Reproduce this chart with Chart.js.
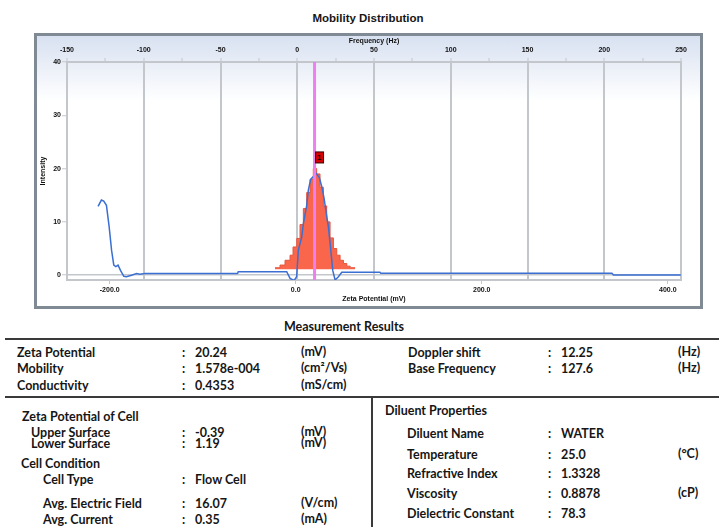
<!DOCTYPE html>
<html>
<head>
<meta charset="utf-8">
<script src="https://cdn.jsdelivr.net/npm/chart.js@4.4.1/dist/chart.umd.min.js"></script>
<style>
  body { margin: 0; background: #fff; }
  #page { position: relative; width: 719px; height: 527px; overflow: hidden; font-family: Lato, sans-serif; color: #161616; }
  #chart-title { position: absolute; left: 0; width: 736px; top: 12px; text-align: center; font: bold 11.5px "Liberation Sans", sans-serif; }
  #frame { position: absolute; left: 34px; top: 33px; width: 669px; height: 276px; box-sizing: border-box;
           border: 3px solid #7f8a95; background: linear-gradient(#d8e1f1 0%, #ffffff 24%, #ffffff 100%); }
  #mobility-chart { position: absolute; left: 0; top: 0; }
  .t { position: absolute; font-weight: bold; font-size: 12.5px; line-height: 14px; white-space: nowrap; }
  .rule { position: absolute; background: #3a3a3a; }
</style>
</head>
<body>
<div id="page">
  <div id="chart-title">Mobility Distribution</div>
  <div id="frame"></div>
  <canvas id="mobility-chart" width="719" height="310"></canvas>
  <div id="results"></div>
</div>
<script>
// Frequency (Hz) top axis and zeta potential (mV) bottom axis
const freqTicks = [-150, -125, -100, -75, -50, -25, 0, 25, 50, 75, 100, 125, 150, 175, 200, 225, 250];
const zetaTicks = [-200, 0, 200, 400];
const intensityTicks = [0, 10, 20, 30, 40];

// blue distribution curve
const curveZeta = [-212.5, -208.9, -206.4, -203.5, -200.6, -198, -195.6, -193.4, -191, -188.4, -184.8, -182, -176.5, -171.1, -167.6, -162.2,
  -62.5, -61.8, -9.7, -6.1, -1.8, 1, 2.8, 6.5, 8.2, 11.8, 13.6, 16.1, 18.3, 21.9, 25.4, 28, 30.5, 32.6, 35.1, 37.7, 39.8, 42.3, 45.9, 49.5,
  90.5, 91.5, 340, 341.5, 414];
const curveIntensity = [12.9, 14.1, 13.9, 13.1, 9.1, 4.7, 1.9, 1.6, 1.9, 0.9, -0.2, -0.3, 0, 0.3, 0.2, 0.3,
  0.3, 0.65, 0.65, -0.6, -1.0, -0.3, 4.7, 7.2, 9.7, 13.1, 16, 18, 18.4, 19.1, 18.3, 16.6, 14.4, 11.9, 9.1, 4.7, 0.9, -0.9, -0.3, 0.55,
  0.55, 0.35, 0.35, 0.05, 0.05];

// red peak histogram (bin left edges)
const peakZeta = [-22.3, -16.9, -11.5, -6.1, -2.9, 1.1, 4.6, 8.2, 11.8, 15.4, 18.9, 22.5, 26.1, 29.7, 33.3, 36.9, 40.5, 44.1, 47.7, 51.3, 54.9, 58.5, 63.8];
const peakIntensity = [1.4, 1.9, 2.8, 3.75, 5.3, 6.9, 9.5, 12.5, 15.5, 18, 20, 19, 16.5, 13, 10, 7, 5, 3.75, 2.8, 2.2, 1.7, 1.4, 1.4];
const peakBase = 1.1;

const zetaPotential = 20.24;
const peakLabel = '1';

// measurement results table
const mainRows = [
  ['Zeta Potential', '20.24', '(mV)'],
  ['Mobility', '1.578e-004', '(cm\u00b2/Vs)'],
  ['Conductivity', '0.4353', '(mS/cm)']
];
const freqRows = [
  ['Doppler shift', '12.25', '(Hz)'],
  ['Base Frequency', '127.6', '(Hz)']
];
const cellRows = [
  ['Upper Surface', '-0.39', '(mV)'],
  ['Lower Surface', '1.19', '(mV)']
];
const conditionRows = [
  ['Cell Type', 'Flow Cell', ''],
  ['Avg. Electric Field', '16.07', '(V/cm)'],
  ['Avg. Current', '0.35', '(mA)']
];
const diluentRows = [
  ['Diluent Name', 'WATER', ''],
  ['Temperature', '25.0', '(\u00b0C)'],
  ['Refractive Index', '1.3328', ''],
  ['Viscosity', '0.8878', '(cP)'],
  ['Dielectric Constant', '78.3', '']
];

const gridGray = '#c3c7cc';
const tickFont = { family: 'Liberation Sans', size: 7, weight: 'bold' };

const peakMarker = {
  id: 'peakMarker',
  afterDatasetsDraw(chart) {
    const c = chart.ctx;
    const x = chart.scales.x.getPixelForValue(zetaPotential) + 5;
    const y = chart.scales.y.getPixelForValue(22);
    c.save();
    c.fillStyle = '#d80000';
    c.strokeStyle = '#300000';
    c.lineWidth = 1;
    c.fillRect(x - 4, y - 6, 8, 11);
    c.strokeRect(x - 4, y - 6, 8, 11);
    c.fillStyle = '#000';
    c.font = 'bold 8px "Liberation Sans"';
    c.textAlign = 'center';
    c.textBaseline = 'middle';
    c.fillText(peakLabel, x, y);
    c.restore();
  }
};

new Chart(document.getElementById('mobility-chart'), {
  type: 'line',
  data: {
    datasets: [
      {
        data: [{ x: zetaPotential, y: -0.9 }, { x: zetaPotential, y: 40 }],
        borderColor: '#ee7fee',
        borderWidth: 3,
        pointRadius: 0,
        order: 0
      },
      {
        data: curveZeta.map((z, i) => ({ x: z, y: curveIntensity[i] })),
        borderColor: '#3c6fd2',
        borderWidth: 1.5,
        pointRadius: 0,
        tension: 0,
        order: 1
      },
      {
        data: peakZeta.map((z, i) => ({ x: z, y: peakIntensity[i] })),
        borderColor: '#e5553c',
        backgroundColor: '#f9664b',
        borderWidth: 1,
        pointRadius: 0,
        stepped: true,
        fill: { value: peakBase },
        order: 2
      }
    ]
  },
  options: {
    responsive: false,
    animation: false,
    layout: { padding: { left: 37, right: 38, top: 36, bottom: 6 } },
    plugins: { legend: { display: false }, tooltip: { enabled: false } },
    scales: {
      x: {
        type: 'linear',
        position: 'bottom',
        min: -245.9,
        max: 414.2,
        afterBuildTicks: (axis) => { axis.ticks = zetaTicks.map(v => ({ value: v })); },
        afterFit: (scale) => { scale.height = 24; },
        ticks: { font: tickFont, color: '#111', padding: 1.5, maxRotation: 0, autoSkip: false,
                 callback: (v) => Number(v).toFixed(1) },
        grid: { drawOnChartArea: false, tickColor: gridGray, tickLength: 4, tickWidth: 1 },
        border: { color: gridGray, width: 2 },
        title: { display: true, text: 'Zeta Potential (mV)', font: tickFont, color: '#111', padding: { top: 0, bottom: 1 } }
      },
      x2: {
        type: 'linear',
        position: 'top',
        min: -150,
        max: 250,
        afterBuildTicks: (axis) => { axis.ticks = freqTicks.map(v => ({ value: v })); },
        afterFit: (scale) => { scale.height = 26; },
        ticks: { font: tickFont, color: '#111', padding: 4, maxRotation: 0, autoSkip: false,
                 callback: (v) => (v % 50 === 0 ? String(v) : '') },
        grid: {
          color: (ctx) => (ctx.tick && ctx.tick.value % 50 === 0 ? gridGray : 'rgba(0,0,0,0)'),
          lineWidth: 2,
          tickColor: gridGray,
          tickWidth: 1,
          tickLength: 4
        },
        border: { color: gridGray, width: 2 },
        title: { display: true, text: 'Frequency (Hz)', font: tickFont, color: '#111', padding: { top: 1, bottom: 0 } }
      },
      y: {
        type: 'linear',
        min: -0.9,
        max: 40,
        afterBuildTicks: (axis) => { axis.ticks = intensityTicks.map(v => ({ value: v })); },
        afterFit: (scale) => { scale.width = 30; },
        ticks: { font: tickFont, color: '#111', padding: 1 },
        grid: {
          color: (ctx) => (ctx.tick && ctx.tick.value === 0 ? gridGray : 'rgba(0,0,0,0)'),
          lineWidth: 1.5,
          tickColor: gridGray,
          tickWidth: 1,
          tickLength: 5
        },
        border: { color: gridGray, width: 2 },
        title: { display: true, text: 'Intensity', font: tickFont, color: '#111', padding: { top: 2, bottom: 0 } }
      }
    }
  },
  plugins: [peakMarker]
});

// results table as positioned text
const results = document.getElementById('results');
function addText(text, x, yc, extra) {
  const d = document.createElement('div');
  d.className = 't';
  d.textContent = text;
  d.style.left = x + 'px';
  d.style.top = (yc - 7) + 'px';
  if (extra) Object.assign(d.style, extra);
  results.appendChild(d);
}
function addRule(x, y, w, h) {
  const d = document.createElement('div');
  d.className = 'rule';
  Object.assign(d.style, { left: x + 'px', top: y + 'px', width: w + 'px', height: h + 'px' });
  results.appendChild(d);
}
function addRows(rows, labelX, colonX, unitX, ys) {
  rows.forEach((r, i) => {
    addText(r[0], labelX, ys[i]);
    addText(':', colonX, ys[i]);
    addText(r[1], colonX + 13, ys[i]);
    if (r[2]) addText(r[2], unitX, ys[i] - 1);
  });
}

addText('Measurement Results', 0, 327, { width: '688px', textAlign: 'center' });
addRule(5, 338, 714, 2);
addRule(5, 396, 714, 2);
addRule(371, 397, 2, 130);

addRows(mainRows, 17, 182, 301, [352.5, 369, 386]);
addRows(freqRows, 408, 548, 678, [352.5, 369]);

addText('Zeta Potential of Cell', 22, 417);
addRows(cellRows, 31, 182, 301, [433, 443.5]);
addText('Cell Condition', 21, 463.5);
addRows(conditionRows, 43, 182, 301, [480, 503.5, 520]);

addText('Diluent Properties', 385, 411);
addRows(diluentRows, 407, 548, 678, [434, 455, 474, 493.5, 513.5]);
</script>
</body>
</html>
